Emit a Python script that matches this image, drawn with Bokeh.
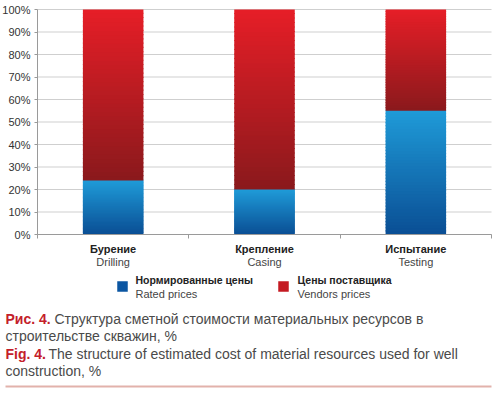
import numpy as np
from bokeh.plotting import figure
from bokeh.layouts import column
from bokeh.models import Range1d, FixedTicker, LinearAxis
from bokeh.core.properties import value
from bokeh.embed import file_html
from bokeh.resources import INLINE

# ---- data ----
categories_ru = ["Бурение", "Крепление", "Испытание"]
categories_en = ["Drilling", "Casing", "Testing"]
rated = [24, 20, 55]            # Нормированные цены, %
vendors = [76, 80, 45]          # Цены поставщика, %
y_ticks = [0, 10, 20, 30, 40, 50, 60, 70, 80, 90, 100]
series_ru = ["Нормированные цены", "Цены поставщика"]
series_en = ["Rated prices", "Vendors prices"]
caption_ru = ("Рис. 4.", "Структура сметной стоимости материальных ресурсов в", "строительстве скважин, %")
caption_en = ("Fig. 4.", "The structure of estimated cost of material resources used for well", "construction, %")

FONT = "Liberation Sans"
TXT = "#333333"

# ---- layout (pixels) ----
W_TOTAL = 492
LEFT_PX = 37                  # room for the y tick labels, inside the frame
CAT_PX = 454                  # width of the category area
H1 = 269                      # chart canvas height
TOP_PX = 9                    # from canvas top to the 100% line
PLOT_PX = 225                 # from 100% to 0%
n = len(categories_ru)
ux = CAT_PX / n
uy = PLOT_PX / 100.0

# ================= chart =================
p = figure(output_backend="svg", toolbar_location=None,
           x_range=Range1d(-LEFT_PX / ux, n + (W_TOTAL - LEFT_PX - CAT_PX) / ux),
           y_range=Range1d(-(H1 - TOP_PX - PLOT_PX) / uy, 100 + TOP_PX / uy),
           x_axis_location=None, y_axis_location=None)
p.frame_width = W_TOTAL
p.frame_height = H1
p.min_border = 0
p.outline_line_color = None
p.border_fill_color = "white"
p.xgrid.visible = False
p.ygrid.visible = False

yax = LinearAxis(ticker=FixedTicker(ticks=y_ticks), fixed_location=0, bounds=(0, 100))
yax.major_label_overrides = {t: f"{t}%" for t in y_ticks}
yax.axis_line_color = "#9a9a9a"
yax.major_tick_line_color = "#9a9a9a"
yax.major_tick_out = 3
yax.major_tick_in = 0
yax.minor_tick_line_color = None
yax.major_label_standoff = 4
yax.major_label_text_font = FONT
yax.major_label_text_font_size = "11px"
yax.major_label_text_color = TXT
p.add_layout(yax, "left")

centers = [i + 0.5 for i in range(n)]
bounds = [float(i) for i in range(n + 1)]

xax = LinearAxis(ticker=FixedTicker(ticks=centers, minor_ticks=bounds), bounds=(0, n),
                 fixed_location=0)
xax.major_label_overrides = {c: s for c, s in zip(centers, categories_ru)}
xax.axis_line_color = "#9a9a9a"
xax.major_tick_line_color = None
xax.major_tick_out = 0
xax.major_tick_in = 0
xax.minor_tick_line_color = "#9a9a9a"
xax.minor_tick_out = 4
xax.minor_tick_in = 0
xax.major_label_standoff = 4
xax.major_label_text_font = FONT
xax.major_label_text_font_size = "11px"
xax.major_label_text_font_style = "bold"
xax.major_label_text_color = "#222222"
p.add_layout(xax, "below")

xax2 = LinearAxis(ticker=FixedTicker(ticks=centers), bounds=(0, n), fixed_location=0)
xax2.major_label_overrides = {c: s for c, s in zip(centers, categories_en)}
xax2.axis_line_color = None
xax2.major_tick_line_color = None
xax2.minor_tick_line_color = None
xax2.major_tick_out = 0
xax2.major_tick_in = 0
xax2.major_label_standoff = 21
xax2.major_label_text_font = FONT
xax2.major_label_text_font_size = "11px"
xax2.major_label_text_color = "#444444"
p.add_layout(xax2, "below")

# horizontal gridlines across the category area
p.segment(x0=[0] * len(y_ticks), x1=[n] * len(y_ticks), y0=y_ticks, y1=y_ticks,
          line_color="#cfcfcf", line_width=1)

# gradient-filled stacked bars (each segment split into thin strips)
def hex2rgb(h):
    h = h.lstrip("#")
    return np.array([int(h[i:i + 2], 16) for i in (0, 2, 4)], dtype=float)

def mix(c_bottom, c_top, t):
    c = hex2rgb(c_bottom) * (1 - t) + hex2rgb(c_top) * t
    return "#%02x%02x%02x" % tuple(int(round(v)) for v in c)

BLUE_BOT, BLUE_TOP = "#0a4e94", "#1f9bd8"
RED_BOT, RED_TOP = "#8a191c", "#e61e27"
N = 40
W = 0.4
OVER = 0.5  # overlap of strips (in %) to hide anti-aliasing seams

def gradient(bottoms, tops, cb, ct, over_top):
    xs, b, t, cols = [], [], [], []
    for x, lo, hi in zip(centers, bottoms, tops):
        edges = np.linspace(lo, hi, N + 1)
        for k in range(N):
            xs.append(x)
            b.append(edges[k])
            t.append(edges[k + 1] + OVER if k < N - 1 else hi + over_top)
            cols.append(mix(cb, ct, (k + 0.5) / N))
    return dict(x=xs, bottom=b, top=t, color=cols)

rated_top = list(rated)
vend_top = [r + v for r, v in zip(rated, vendors)]
# blue strips run slightly under the red segment (drawn afterwards) so no seam shows
p.vbar(source=gradient([0] * n, rated_top, BLUE_BOT, BLUE_TOP, OVER), x="x", bottom="bottom",
       top="top", width=W, fill_color="color", line_color=None)
p.vbar(source=gradient(rated_top, vend_top, RED_BOT, RED_TOP, 0), x="x", bottom="bottom",
       top="top", width=W, fill_color="color", line_color=None)

# ================= legend + caption panel =================
H2 = 120
q = figure(width=W_TOTAL, height=H2, output_backend="svg", toolbar_location=None,
           x_range=Range1d(0, W_TOTAL), y_range=Range1d(H2, 0),
           x_axis_location=None, y_axis_location=None)
q.min_border = 0
q.outline_line_color = None
q.xgrid.visible = False
q.ygrid.visible = False
q.border_fill_color = "white"

# legend
leg_colors = ["#0b56a2", "#c41a22"]
q.rect(x=[122, 283], y=[17, 17], width=10.5, height=10.5, fill_color=leg_colors, line_color=None)
q.text(x=[135, 297], y=[10.5, 10.5], text=series_ru, text_font=value(FONT), text_font_size="10.5px",
       text_font_style="bold", text_color="#222222", text_baseline="middle")
q.text(x=[135, 297], y=[24.5, 24.5], text=series_en, text_font=value(FONT), text_font_size="11px",
       text_color="#444444", text_baseline="middle")

# caption
RED = "#c4202a"
GRAY = "#4a4a4a"
CAP = "14px"
q.text(x=[5, 5], y=[49, 84], text=[caption_ru[0], caption_en[0]], text_font=value(FONT),
       text_font_size=CAP, text_font_style="bold", text_color=RED, text_baseline="alphabetic")
q.text(x=[54, 48], y=[49, 84], text=[caption_ru[1], caption_en[1]], text_font=value(FONT),
       text_font_size=CAP, text_color=GRAY, text_baseline="alphabetic")
q.text(x=[5, 5], y=[66, 101], text=[caption_ru[2], caption_en[2]], text_font=value(FONT),
       text_font_size=CAP, text_color=GRAY, text_baseline="alphabetic")

# bottom rule
q.segment(x0=[5], y0=[117], x1=[491], y1=[117], line_color="#e2b2ab", line_width=2)

layout = column(p, q, spacing=0)
open("out.html", "w").write(file_html(layout, INLINE))
